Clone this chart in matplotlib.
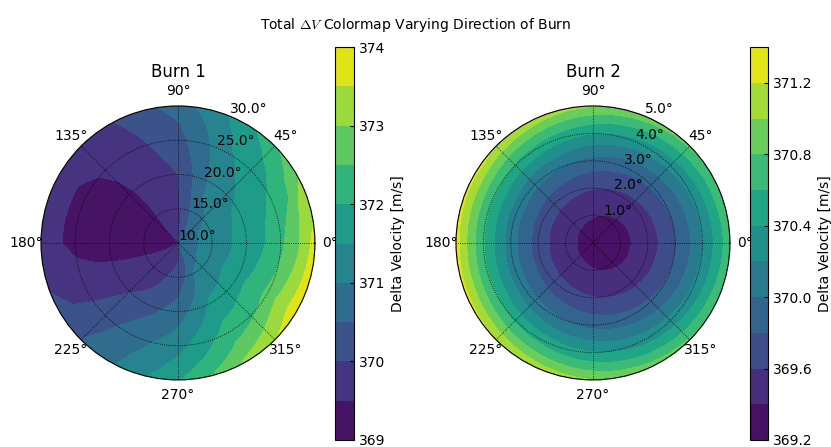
import numpy as np
import matplotlib
matplotlib.use('Agg')
import matplotlib.pyplot as plt

plt.rcParams['mathtext.fontset'] = 'cm'

# Burn 1: cone angle (deg) on the radius, clock angle (deg) around
burn1_cone = [10.0, 12.5, 15.0, 17.5, 20.0, 22.5, 25.0, 27.5, 30.0]
burn1_clock = [0, 30, 60, 90, 120, 150, 180, 210, 240, 270, 300, 330]
burn1_dv = [
    [370.80, 370.70, 370.40, 369.80, 369.55, 369.45, 369.35, 369.45, 369.75, 369.95, 370.40, 370.60],
    [370.96, 370.91, 370.55, 369.85, 369.55, 369.38, 369.30, 369.52, 369.83, 369.98, 370.72, 370.93],
    [371.19, 371.13, 370.80, 369.90, 369.56, 369.32, 369.26, 369.60, 369.91, 370.12, 371.07, 371.24],
    [371.45, 371.36, 371.03, 369.95, 369.58, 369.28, 369.24, 369.66, 369.99, 370.44, 371.28, 371.52],
    [371.70, 371.58, 371.17, 370.00, 369.62, 369.27, 369.24, 369.73, 370.23, 370.73, 371.62, 371.82],
    [371.96, 371.79, 371.31, 370.16, 369.68, 369.30, 369.27, 369.80, 370.45, 371.01, 371.91, 372.16],
    [372.39, 372.00, 371.44, 370.31, 369.75, 369.38, 369.35, 369.88, 370.66, 371.32, 372.25, 372.61],
    [372.90, 372.37, 371.61, 370.47, 369.84, 369.55, 369.55, 369.98, 370.80, 371.62, 372.60, 373.28],
    [373.70, 372.97, 371.80, 370.72, 369.95, 369.70, 369.72, 370.12, 370.92, 371.96, 373.12, 373.80],
]
burn1_ticks = [369, 370, 371, 372, 373, 374]

# Burn 2
burn2_cone = [0.0, 0.5, 1.0, 1.5, 2.0, 2.5, 3.0, 3.5, 4.0, 4.5, 5.0]
burn2_clock = [0, 30, 60, 90, 120, 150, 180, 210, 240, 270, 300, 330]
burn2_dv = [
    [369.34, 369.34, 369.34, 369.34, 369.34, 369.34, 369.34, 369.34, 369.34, 369.34, 369.34, 369.34],
    [369.33, 369.34, 369.35, 369.36, 369.37, 369.38, 369.39, 369.38, 369.37, 369.36, 369.35, 369.34],
    [369.36, 369.36, 369.38, 369.41, 369.44, 369.46, 369.46, 369.46, 369.44, 369.41, 369.38, 369.36],
    [369.41, 369.42, 369.45, 369.49, 369.53, 369.56, 369.57, 369.56, 369.53, 369.49, 369.45, 369.42],
    [369.50, 369.52, 369.56, 369.61, 369.66, 369.70, 369.72, 369.70, 369.66, 369.61, 369.56, 369.52],
    [369.63, 369.65, 369.69, 369.76, 369.83, 369.88, 369.89, 369.88, 369.83, 369.76, 369.69, 369.65],
    [369.78, 369.81, 369.86, 369.94, 370.02, 370.08, 370.10, 370.08, 370.02, 369.94, 369.86, 369.81],
    [369.97, 370.00, 370.07, 370.16, 370.25, 370.32, 370.35, 370.32, 370.25, 370.16, 370.07, 370.00],
    [370.20, 370.23, 370.30, 370.41, 370.52, 370.60, 370.62, 370.60, 370.52, 370.41, 370.30, 370.23],
    [370.45, 370.49, 370.57, 370.69, 370.81, 370.90, 370.93, 370.90, 370.81, 370.69, 370.57, 370.49],
    [370.74, 370.78, 370.88, 371.01, 371.15, 371.24, 371.28, 371.24, 371.15, 371.01, 370.88, 370.78],
]
burn2_ticks = [369.2, 369.6, 370.0, 370.4, 370.8, 371.2]


def polar_panel(ax, cax, cone, clock, dv, levels, rticks, ticks, fmt, title):
    # close the clock angle loop so the contours wrap around 360
    th = np.deg2rad(np.append(clock, 360))
    dv = np.array(dv)
    dv = np.column_stack([dv, dv[:, 0]])
    TH, R = np.meshgrid(th, cone)

    cs = ax.contourf(TH, R, dv, levels=levels, cmap='viridis')
    # bend the contour edges along the polar grid instead of straight chords
    for p in cs.get_paths():
        p._interpolation_steps = 40

    ax.set_rlim(cone[0], cone[-1])
    ax.set_rgrids(rticks, labels=['%.1f°' % r for r in rticks], fontsize=10)
    ax.set_rlabel_position(67.5)
    for lbl in ax.get_yticklabels():
        lbl.set_ha('left')
    ax.set_thetagrids(np.arange(0, 360, 45), fontsize=10)
    ax.tick_params(axis='x', pad=0)
    ax.grid(True, color='k', linestyle=':', linewidth=0.6)
    ax.set_title(title, fontsize=12, y=1.075)

    cbar = plt.colorbar(cs, cax=cax)
    cbar.set_ticks(ticks)
    cbar.set_ticklabels([fmt % t for t in ticks])
    cbar.ax.tick_params(labelsize=10, direction='in', length=3)
    cbar.set_label('Delta Velocity [m/s]', fontsize=10)
    return cs


fig = plt.figure(figsize=(8.31, 4.47), dpi=100)
ax1 = fig.add_axes([0.0493, 0.150, 0.3297, 0.613], projection='polar')
cax1 = fig.add_axes([0.4031, 0.0157, 0.0229, 0.879])
ax2 = fig.add_axes([0.5487, 0.150, 0.3297, 0.613], projection='polar')
cax2 = fig.add_axes([0.9025, 0.0157, 0.0217, 0.879])

polar_panel(ax1, cax1, burn1_cone, burn1_clock, burn1_dv,
            np.linspace(369, 374, 11), [10, 15, 20, 25, 30],
            burn1_ticks, '%d', 'Burn 1')
polar_panel(ax2, cax2, burn2_cone, burn2_clock, burn2_dv,
            np.linspace(369.2, 371.4, 12), [1, 2, 3, 4, 5],
            burn2_ticks, '%.1f', 'Burn 2')

fig.suptitle(r'Total $\Delta V$ Colormap Varying Direction of Burn', fontsize=10, y=0.965)

plt.savefig('out.png', dpi=100)
